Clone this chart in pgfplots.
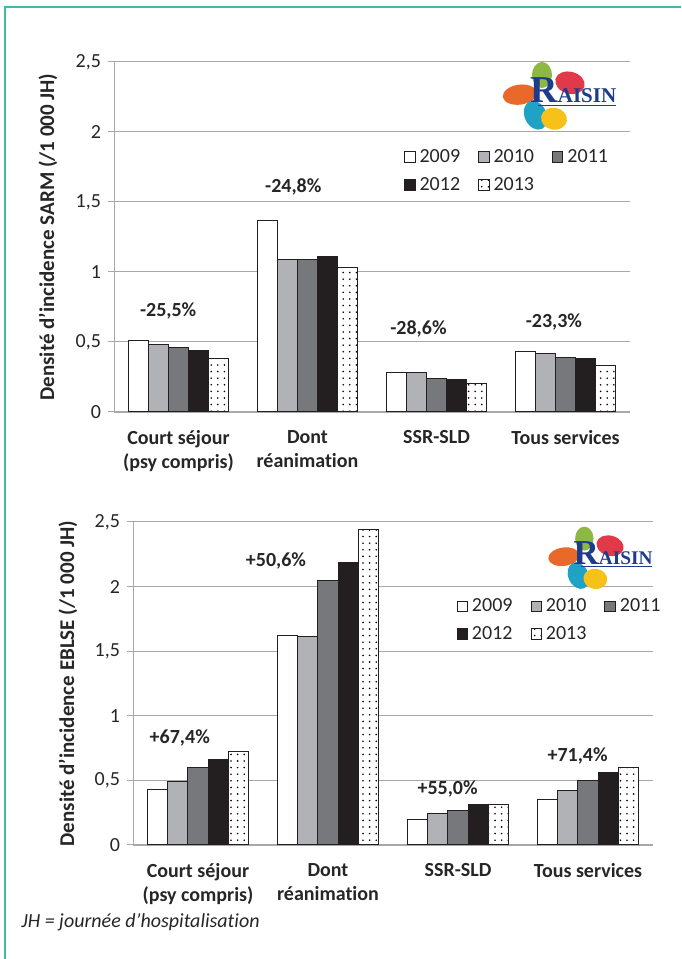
\documentclass[border=0pt]{standalone}
\usepackage{pgfplots}
\pgfplotsset{compat=1.18}
\usepackage{fontspec}
\setmainfont{Carlito}[Ligatures={NoCommon,NoDiscretionary,NoRare}]
\newfontfamily\logofont{Liberation Serif}
\usetikzlibrary{patterns.meta}

\definecolor{cten}{HTML}{B1B2B5}
\definecolor{celeven}{HTML}{77787C}
\definecolor{ctwelve}{HTML}{231F20}
\definecolor{gridc}{HTML}{A8A8A8}
\definecolor{framec}{HTML}{3DBBA8}
\definecolor{txtc}{HTML}{262626}
\definecolor{lorange}{HTML}{E8692A}
\definecolor{lgreen}{HTML}{8DB843}
\definecolor{lred}{HTML}{E03A4A}
\definecolor{lteal}{HTML}{1FA3C4}
\definecolor{lyellow}{HTML}{F6C21A}
\definecolor{lblue}{HTML}{1E3C8C}

\newcommand\apos{{\char"0027}}
\newcommand\raisinlogo{%
  \fill[lorange, rotate=8] (-13pt,2pt) ellipse (8.5pt and 5pt);
  \fill[lgreen] (-2pt,10pt) ellipse (5pt and 6.5pt);
  \fill[lred, rotate=-15] (10pt,9pt) ellipse (7.5pt and 5.5pt);
  \fill[lteal, rotate=25] (-9pt,-7pt) ellipse (5.5pt and 7.5pt);
  \fill[lyellow, rotate=-10] (6pt,-11pt) ellipse (6.5pt and 5.5pt);
  \node[lblue, inner sep=0pt, anchor=base west] at (-8pt,-4pt)
    {\logofont\bfseries{\fontsize{19}{19}\selectfont R}{\fontsize{10.5}{10.5}\selectfont AISIN}};
  \draw[lblue, line width=0.6pt] (-4pt,-5.2pt) -- (35pt,-5.2pt);
}

\pgfplotsset{
  mybars/.style={
    scale only axis,
    ybar=0pt, bar width=0.154,
    xmin=-0.5, xmax=3.5, ymin=0, ymax=2.5,
    axis x line=bottom, axis y line=left,
    axis line style={gridc, -},
    ymajorgrids, grid style={gridc, line width=0.5pt},
    ytick={0,0.5,1,1.5,2,2.5},
    ytick style={gridc, line width=0.5pt},
    tick align=outside, major tick length=3pt,
    xtick={0,1,2,3},
    xtick style={draw=none},
    xticklabels={{Court séjour\\(psy compris)},{Dont\\réanimation},{SSR-SLD},{Tous services}},
    xticklabel style={align=center, font=\bfseries, text=txtc, yshift=-2.5pt},
    yticklabel style={text=txtc},
    extra x ticks={-0.5,0.5,1.5,2.5,3.5},
    extra x tick labels={},
    extra x tick style={grid=none, tick style={draw=gridc, line width=0.5pt}, major tick length=3pt},
    /pgf/number format/use comma,
    /pgf/number format/fixed,
    /pgf/number format/assume math mode=true,
    ylabel style={font=\bfseries\fontsize{10.5}{12}\selectfont, text=txtc, anchor=center},
    legend columns=3,
    legend style={draw=none, fill=none, anchor=north west, text=txtc,
      /tikz/every even column/.append style={column sep=7pt},
      row sep=2pt},
    legend image code/.code={\draw[#1] (0pt,-2.6pt) rectangle (5.2pt,2.6pt);},
    every axis plot/.append style={draw=ctwelve, line width=0.5pt},
  },
  pdot/.style={fill=white, postaction={pattern={Dots[distance=3.3pt, radius=0.45pt]}}},
}

\begin{document}
\begin{tikzpicture}
\path[use as bounding box] (0,0) rectangle (340.5pt,479.5pt);
\draw[framec, line width=0.9pt] (2.5pt,0pt) -- (2.5pt,476pt) -- (340.5pt,476pt);

% ---------- SARM ----------
\begin{axis}[mybars, at={(57pt,273.5pt)}, anchor=south west,
  width=258pt, height=175pt,
  ylabel={Densité d\apos incidence SARM (/1 000 JH)},
  ylabel style={at={(axis description cs:-0.128,0.5)}},
  legend style={at={(0.55,0.775)}}]
\addplot[fill=white] coordinates {(0,0.51) (1,1.37) (2,0.28) (3,0.43)};
\addplot[fill=cten] coordinates {(0,0.48) (1,1.09) (2,0.28) (3,0.42)};
\addplot[fill=celeven] coordinates {(0,0.46) (1,1.09) (2,0.24) (3,0.39)};
\addplot[fill=ctwelve] coordinates {(0,0.44) (1,1.11) (2,0.23) (3,0.38)};
\addplot[pdot] coordinates {(0,0.38) (1,1.03) (2,0.20) (3,0.33)};
\legend{2009,2010,2011,2012,2013}
\node[font=\bfseries, text=txtc] at (axis cs:-0.08,0.72) {-25,5\%};
\node[font=\bfseries, text=txtc] at (axis cs:0.89,1.61) {-24,8\%};
\node[font=\bfseries, text=txtc] at (axis cs:1.86,0.59) {-28,6\%};
\node[font=\bfseries, text=txtc] at (axis cs:2.91,0.64) {-23,3\%};
\end{axis}

% ---------- EBLSE ----------
\begin{axis}[mybars, at={(66.5pt,57pt)}, anchor=south west,
  width=260pt, height=161.5pt,
  ylabel={Densité d\apos incidence EBLSE (/1 000 JH)},
  ylabel style={at={(axis description cs:-0.125,0.5)}},
  legend style={at={(0.61,0.79)}}]
\addplot[fill=white] coordinates {(0,0.43) (1,1.62) (2,0.20) (3,0.35)};
\addplot[fill=cten] coordinates {(0,0.49) (1,1.61) (2,0.24) (3,0.42)};
\addplot[fill=celeven] coordinates {(0,0.60) (1,2.05) (2,0.27) (3,0.50)};
\addplot[fill=ctwelve] coordinates {(0,0.66) (1,2.19) (2,0.31) (3,0.56)};
\addplot[pdot] coordinates {(0,0.72) (1,2.44) (2,0.31) (3,0.60)};
\legend{2009,2010,2011,2012,2013}
\node[font=\bfseries, text=txtc] at (axis cs:-0.14,0.83) {+67,4\%};
\node[font=\bfseries, text=txtc] at (axis cs:0.60,2.20) {+50,6\%};
\node[font=\bfseries, text=txtc] at (axis cs:1.92,0.435) {+55,0\%};
\node[font=\bfseries, text=txtc] at (axis cs:2.92,0.69) {+71,4\%};
\end{axis}

% logos
\begin{scope}[shift={(273pt,432pt)}]
\raisinlogo
\end{scope}
\begin{scope}[shift={(294pt,201pt)}, scale=0.92, every node/.append style={scale=0.92}]
\raisinlogo
\end{scope}

\node[anchor=west, font=\itshape, text=txtc, inner sep=0pt] at (10.5pt,18.5pt) {JH = journée d’hospitalisation};
\end{tikzpicture}
\end{document}
